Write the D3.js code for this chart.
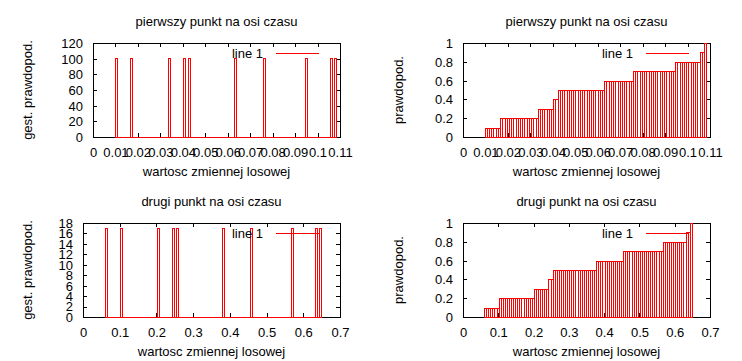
<!DOCTYPE html>
<html><head><meta charset="utf-8">
<script src="https://cdn.jsdelivr.net/npm/d3@7"></script>
<style>
html,body{margin:0;padding:0;background:#fff;}
svg{display:block;font-family:"Liberation Sans",Arial,sans-serif;font-size:13px;}
</style></head>
<body>
<svg id="chart" width="742" height="361"></svg>
<script>
// ---- data ----
const samplesFirst  = [0.0096, 0.0168, 0.0333, 0.0401, 0.0423, 0.0631, 0.0756, 0.0943, 0.1051, 0.1073];
const rangeFirst    = [0.0096, 0.1083];
const densityFirst  = 101;           // bar height, "gest. prawdopod."
const samplesSecond = [0.0598, 0.1005, 0.2006, 0.2423, 0.2534, 0.3766, 0.4535, 0.5666, 0.6300, 0.6425];
const rangeSecond   = [0.0598, 0.6484];
const densitySecond = 17;
const binCount = 100;

const xTicksFirst  = [0, 0.01, 0.02, 0.03, 0.04, 0.05, 0.06, 0.07, 0.08, 0.09, 0.1, 0.11];
const xLabelsFirst = ["0","0.01","0.02","0.03","0.04","0.05","0.06","0.07","0.08","0.09","0.1","0.11"];
const xTicksSecond  = [0, 0.1, 0.2, 0.3, 0.4, 0.5, 0.6, 0.7];
const xLabelsSecond = ["0","0.1","0.2","0.3","0.4","0.5","0.6","0.7"];
const yTicksDensFirst  = [0, 20, 40, 60, 80, 100, 120];
const yLabelsDensFirst = ["0","20","40","60","80","100","120"];
const yTicksDensSecond  = [0, 2, 4, 6, 8, 10, 12, 14, 16, 18];
const yLabelsDensSecond = ["0","2","4","6","8","10","12","14","16","18"];
const yTicksCdf  = [0, 0.2, 0.4, 0.6, 0.8, 1];
const yLabelsCdf = ["0","0.2","0.4","0.6","0.8","1"];

const titleFirst = "pierwszy punkt na osi czasu";
const titleSecond = "drugi punkt na osi czasu";
const xTitle = "wartosc zmiennej losowej";
const yTitleDens = "gest. prawdopod.";
const yTitleCdf = "prawdopod.";
const keyLabel = "line 1";

// ---- bins ----
function makeBins(samples, range, height) {
  const w = (range[1] - range[0]) / binCount;
  const counts = new Array(binCount).fill(0);
  samples.forEach(s => {
    const i = Math.max(0, Math.min(binCount - 1, Math.round((s - range[0]) / w)));
    counts[i] += 1;
  });
  let cum = 0;
  return counts.map((c, i) => {
    cum += c;
    return {x0: range[0] + i * w, x1: range[0] + (i + 1) * w,
            dens: c * height, cdf: cum / samples.length};
  });
}
const binsFirst = makeBins(samplesFirst, rangeFirst, densityFirst);
const binsSecond = makeBins(samplesSecond, rangeSecond, densitySecond);

const svg = d3.select("#chart");
const px = v => Math.round(v) + 0.5;

const panels = [
  {L:93,  R:340, T:43,  B:137, xd:[0,0.11], yd:[0,120], xt:xTicksFirst, xl:xLabelsFirst, yt:yTicksDensFirst, yl:yLabelsDensFirst,
   bins:binsFirst, key:"dens", title:titleFirst, ytitle:yTitleDens, yx:32, titleY:26},
  {L:463, R:710, T:43,  B:137, xd:[0,0.11], yd:[0,1], xt:xTicksFirst, xl:xLabelsFirst, yt:yTicksCdf, yl:yLabelsCdf,
   bins:binsFirst, key:"cdf", title:titleFirst, ytitle:yTitleCdf, yx:403, titleY:26},
  {L:83,  R:340, T:223, B:317, xd:[0,0.7], yd:[0,18], xt:xTicksSecond, xl:xLabelsSecond, yt:yTicksDensSecond, yl:yLabelsDensSecond,
   bins:binsSecond, key:"dens", title:titleSecond, ytitle:yTitleDens, yx:32, titleY:206},
  {L:463, R:710, T:223, B:317, xd:[0,0.7], yd:[0,1], xt:xTicksSecond, xl:xLabelsSecond, yt:yTicksCdf, yl:yLabelsCdf,
   bins:binsSecond, key:"cdf", title:titleSecond, ytitle:yTitleCdf, yx:403, titleY:206}
];

panels.forEach(p => {
  const g = svg.append("g");
  const xs = d3.scaleLinear().domain(p.xd).range([p.L, p.R]);
  const ys = d3.scaleLinear().domain(p.yd).range([p.B, p.T]);

  // frame
  g.append("rect").attr("x", p.L + 0.5).attr("y", p.T + 0.5)
    .attr("width", p.R - p.L).attr("height", p.B - p.T)
    .attr("fill", "none").attr("stroke", "#000").attr("shape-rendering", "crispEdges");

  const tl = 4;
  // axes with inward ticks
  const ax = g.append("g").attr("transform", `translate(0,${p.B})`)
    .call(d3.axisBottom(xs).tickValues(p.xt).tickSize(-tl).tickFormat((d, i) => p.xl[i]));
  ax.selectAll("text").attr("y", 20).attr("dy", null);
  g.append("g").attr("transform", `translate(0,${p.T})`)
    .call(d3.axisTop(xs).tickValues(p.xt).tickSize(-tl).tickFormat(""));
  const ay = g.append("g").attr("transform", `translate(${p.L},0)`)
    .call(d3.axisLeft(ys).tickValues(p.yt).tickSize(-tl).tickPadding(10).tickFormat((d, i) => p.yl[i]));
  ay.selectAll("text").attr("dy", "0.34em");
  g.append("g").attr("transform", `translate(${p.R},0)`)
    .call(d3.axisRight(ys).tickValues(p.yt).tickSize(-tl).tickFormat(""));
  g.selectAll(".domain").remove();
  g.selectAll(".tick line").attr("stroke", "#000").attr("shape-rendering", "crispEdges");
  g.selectAll(".tick text").attr("fill", "#000").attr("font-size", 13)
    .attr("font-family", "'Liberation Sans',Arial,sans-serif");

  // data: boxes
  const yb = px(ys(0));
  g.append("g").selectAll("path").data(p.bins).join("path")
    .attr("d", d => {
      const a = px(xs(d.x0)), b = px(xs(d.x1)), t = px(ys(d[p.key]));
      return `M${a},${yb}V${t}H${b}V${yb}Z`;
    })
    .attr("fill", "none").attr("stroke", "#f00").attr("stroke-width", 1)
    .attr("shape-rendering", "crispEdges");

  // key
  g.append("text").attr("x", p.R - 77).attr("y", p.T + 15).attr("text-anchor", "end")
    .attr("fill", "#000").text(keyLabel);
  g.append("line").attr("x1", p.R - 64).attr("x2", p.R - 21)
    .attr("y1", p.T + 10.5).attr("y2", p.T + 10.5)
    .attr("stroke", "#f00").attr("shape-rendering", "crispEdges");

  // titles
  const cx = (p.L + p.R) / 2;
  g.append("text").attr("x", cx).attr("y", p.titleY).attr("text-anchor", "middle").text(p.title);
  g.append("text").attr("x", cx).attr("y", p.B + 39).attr("text-anchor", "middle").text(xTitle);
  g.append("text").attr("transform", `translate(${p.yx},${(p.T + p.B) / 2}) rotate(-90)`)
    .attr("text-anchor", "middle").text(p.ytitle);
});
</script>
</body></html>
